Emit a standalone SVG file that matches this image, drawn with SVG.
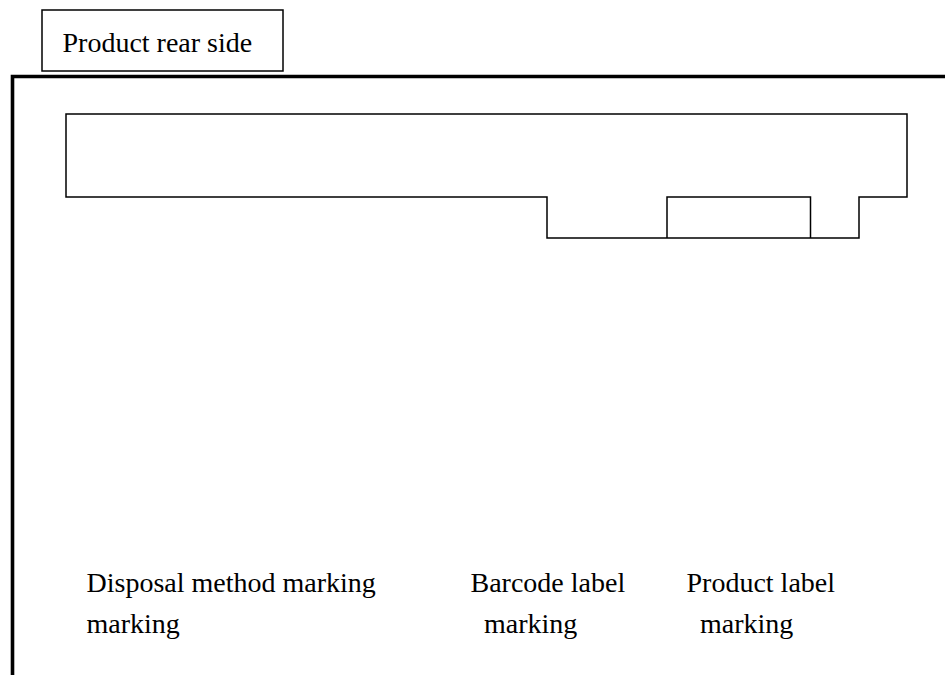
<svg xmlns="http://www.w3.org/2000/svg" width="945" height="675" viewBox="0 0 945 675">
<style>
.t{font-family:"Liberation Serif","Times New Roman",serif;font-size:28px;fill:#000}
.ln{fill:none;stroke:#000;stroke-width:1.5}
</style>
<rect width="945" height="675" fill="#fff"/>
<g id="title">
<rect class="ln" x="42" y="10" width="241" height="61" stroke-width="1.3"/>
<text class="t" x="62.5" y="52">Product rear side</text>
</g>
<g id="frame">
<path d="M12.5,676 V76.5 H946" fill="none" stroke="#000" stroke-width="3.6"/>
</g>
<g id="panel">
<path class="ln" d="M66,114 H907 V197 H859 V238 H547 V197 H66 Z"/>
<path class="ln" d="M667,238 V197 H810.5 V238"/>
</g>
<g id="labels">
<text class="t" x="86.5" y="592">Disposal method marking</text>
<text class="t" x="86.5" y="633">marking</text>
<text class="t" x="470.5" y="592">Barcode label</text>
<text class="t" x="484" y="633">marking</text>
<text class="t" x="686.5" y="592">Product label</text>
<text class="t" x="700" y="633">marking</text>
</g>
</svg>
